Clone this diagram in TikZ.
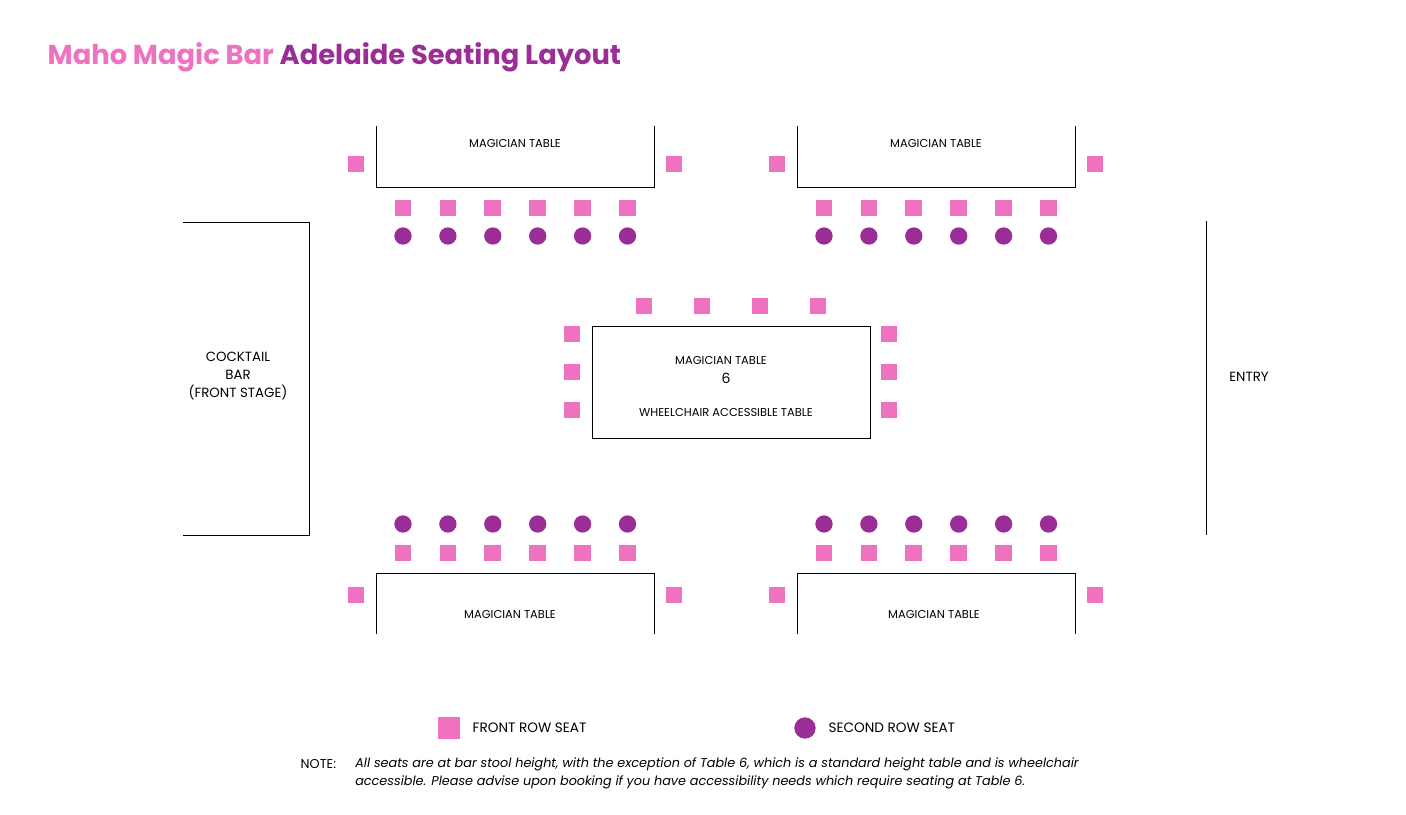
\documentclass[tikz,border=0pt]{standalone}
\usepackage{fontspec}
\setmainfont{Poppins}
\definecolor{pk}{HTML}{EE72C0}
\definecolor{pu}{HTML}{9B2D96}
\begin{document}
\begin{tikzpicture}[x=0.75pt,y=-0.75pt,
  fs/.style={fill=pk,minimum size=12.5pt,inner sep=0,draw=none},
  ss/.style={circle,fill=pu,minimum size=13pt,inner sep=0,draw=none},
  tb/.style={draw=black,line width=0.65pt},
  lb/.style={font=\fontsize{8.6}{10}\selectfont,align=center}]
\useasboundingbox (0,0) rectangle (1406,814);
\node[anchor=west,font=\fontsize{20.5}{24}\selectfont\bfseries] (title) at (43,57) {\textcolor{pk}{Maho Magic Bar} \textcolor{pu}{Adelaide Seating Layout}};
% top tables
\foreach \L/\n in {376/a,797/b}{
  \draw[tb] (\L,126) -- (\L,187) -- (\L+278,187) -- (\L+278,126);
  \node[lb] (tt\n) at (\L+139,143) {MAGICIAN TABLE};
  \node[fs] at (\L-20,164) {}; \node[fs] at (\L+298,164) {};
  \foreach \i in {0,...,5}{
    \node[fs] at (\L+27+44.9*\i,208) {};
    \node[ss] at (\L+27+44.9*\i,236) {};
    \node[ss] at (\L+27+44.9*\i,524) {};
    \node[fs] at (\L+27+44.9*\i,553) {};}
  \draw[tb] (\L,634) -- (\L,573) -- (\L+278,573) -- (\L+278,634);
  \node[fs] at (\L-20,595) {}; \node[fs] at (\L+298,595) {};
}
\node[lb] (bta) at (510,614) {MAGICIAN TABLE};
\node[lb] (btb) at (934,614) {MAGICIAN TABLE};
% center
\draw[tb] (592,326) rectangle (870,438);
\node[lb] (c1) at (721,360) {MAGICIAN TABLE};
\node[lb,font=\fontsize{10.5}{12}\selectfont] (c2) at (726,378) {6};
\node[lb] (c3) at (726,412) {WHEELCHAIR ACCESSIBLE TABLE};
\foreach \x in {644,702,760,818}{\node[fs] at (\x,306) {};}
\foreach \y in {334,372,410}{\node[fs] at (572,\y) {}; \node[fs] at (889,\y) {};}
% bar & entry
\draw[tb] (183,222) -- (309,222) -- (309,535) -- (183,535);
\node[lb,font=\fontsize{10}{13.5}\selectfont] (bar) at (238,376) {COCKTAIL\\BAR\\(FRONT STAGE)};
\draw[tb] (1206,221) -- (1206,535);
\node[lb,font=\fontsize{10}{12}\selectfont] (entry) at (1249,377) {ENTRY};
% legend
\node[fs,minimum size=16pt] (l1) at (449,728) {};
\node[anchor=west,font=\fontsize{10.2}{12}\selectfont] (l1t) at (468,728) {FRONT ROW SEAT};
\node[ss,minimum size=16pt] (l2) at (805,728) {};
\node[anchor=west,font=\fontsize{10.2}{12}\selectfont] (l2t) at (824,728) {SECOND ROW SEAT};
\node[anchor=west,font=\fontsize{9.6}{12}\selectfont] (nt) at (296,764) {NOTE:};
\node[anchor=north west,align=left,font=\fontsize{9.6}{13.5}\selectfont\itshape,inner sep=0] (note) at (355,757) {All seats are at bar stool height, with the exception of Table 6, which is a standard height table and is wheelchair\\accessible. Please advise upon booking if you have accessibility needs which require seating at Table 6.};
\end{tikzpicture}
\end{document}
